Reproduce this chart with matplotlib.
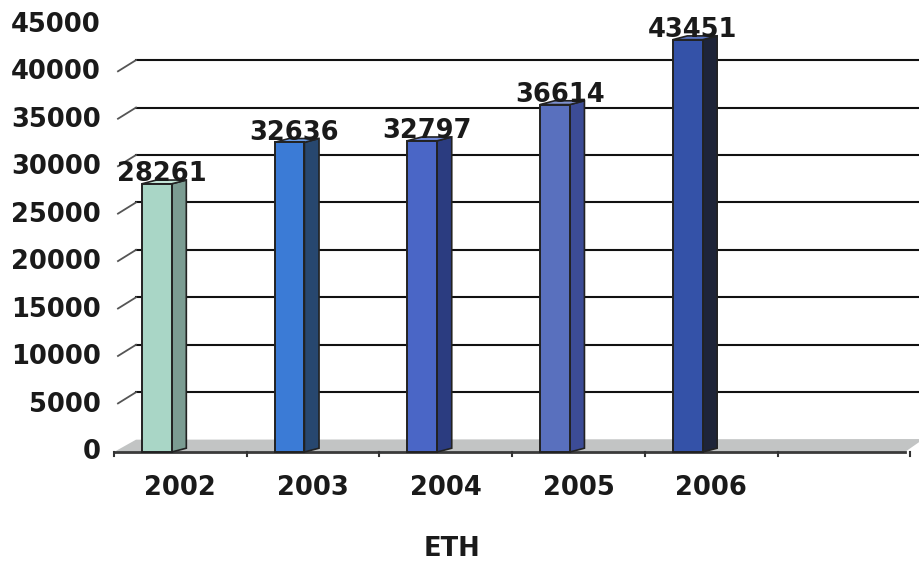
import matplotlib.pyplot as plt
from matplotlib.patches import Polygon

years = ['2002', '2003', '2004', '2005', '2006']
values = [28261, 32636, 32797, 36614, 43451]
y_ticks = [0, 5000, 10000, 15000, 20000, 25000, 30000, 35000, 40000, 45000]
n_slots = 6
x_title = 'ETH'

front_colors = ['#a9d6c6', '#3b7bd6', '#4a66c6', '#5970be', '#3452a8']
side_colors = ['#7b9c92', '#27476f', '#2b3c80', '#3c4c96', '#1e2438']
top_colors = ['#c4e6d8', '#6a9ce6', '#7088d8', '#7f92d0', '#5a74c0']

# depth offsets for the back wall and for the bars (data units)
WDX, WDY = 0.166, 1300
BDX, BDY = 0.11, 400
BAR_X0, BAR_W = 0.21, 0.225

fig = plt.figure(figsize=(9.19, 5.61), dpi=100)
ax = fig.add_axes([0, 0, 1, 1])
ax.set_xlim(-0.859, 6.066)
ax.set_ylim(-11487, 47634)
ax.axis('off')

font = dict(family='DejaVu Sans', fontweight='bold', fontsize=18.5, color='#1a1a1a')

# back wall gridlines and left wall diagonals
for v in y_ticks[1:-1]:
    ax.plot([WDX, 6.3], [v + WDY, v + WDY], color='#111111', lw=1.5, zorder=1)
    ax.plot([0.03, WDX], [v + 120, v + WDY], color='#555555', lw=1.3, zorder=1)

# floor
floor = Polygon([(0, 0), (5.96, 0), (6.1, WDY * 1.05), (WDX, WDY)],
                closed=True, facecolor='#c2c4c4', edgecolor='none', zorder=2)
ax.add_patch(floor)
ax.plot([0, 5.96], [0, 0], color='#3a3a3a', lw=2, zorder=2)
for k in range(n_slots + 1):
    ax.plot([k, k], [0, -450], color='#333333', lw=1.5, zorder=2)

# bars with side and top faces
for i, (yr, val) in enumerate(zip(years, values)):
    x0 = i + BAR_X0
    x1 = x0 + BAR_W
    side = Polygon([(x1, 0), (x1 + BDX, BDY), (x1 + BDX, val + BDY), (x1, val)],
                   closed=True, facecolor=side_colors[i], edgecolor='#222222',
                   lw=1.2, zorder=3)
    top = Polygon([(x0, val), (x1, val), (x1 + BDX, val + BDY), (x0 + BDX, val + BDY)],
                  closed=True, facecolor=top_colors[i], edgecolor='#222222',
                  lw=1.2, zorder=3)
    front = Polygon([(x0, 0), (x1, 0), (x1, val), (x0, val)],
                    closed=True, facecolor=front_colors[i], edgecolor='#222222',
                    lw=1.4, zorder=4)
    for p in (side, top, front):
        ax.add_patch(p)
    ax.text(x0 + 0.15, val + 1000, str(val), ha='center', va='center',
            zorder=5, **font)
    ax.text(i + 0.5, -3800, yr, ha='center', va='center', **font)

# value axis labels
for v in y_ticks:
    ax.text(-0.1, v, str(v), ha='right', va='center', **font)

ax.text(2.55, -10200, x_title, ha='center', va='center', **font)

fig.savefig('out.png', dpi=100, facecolor='white')
